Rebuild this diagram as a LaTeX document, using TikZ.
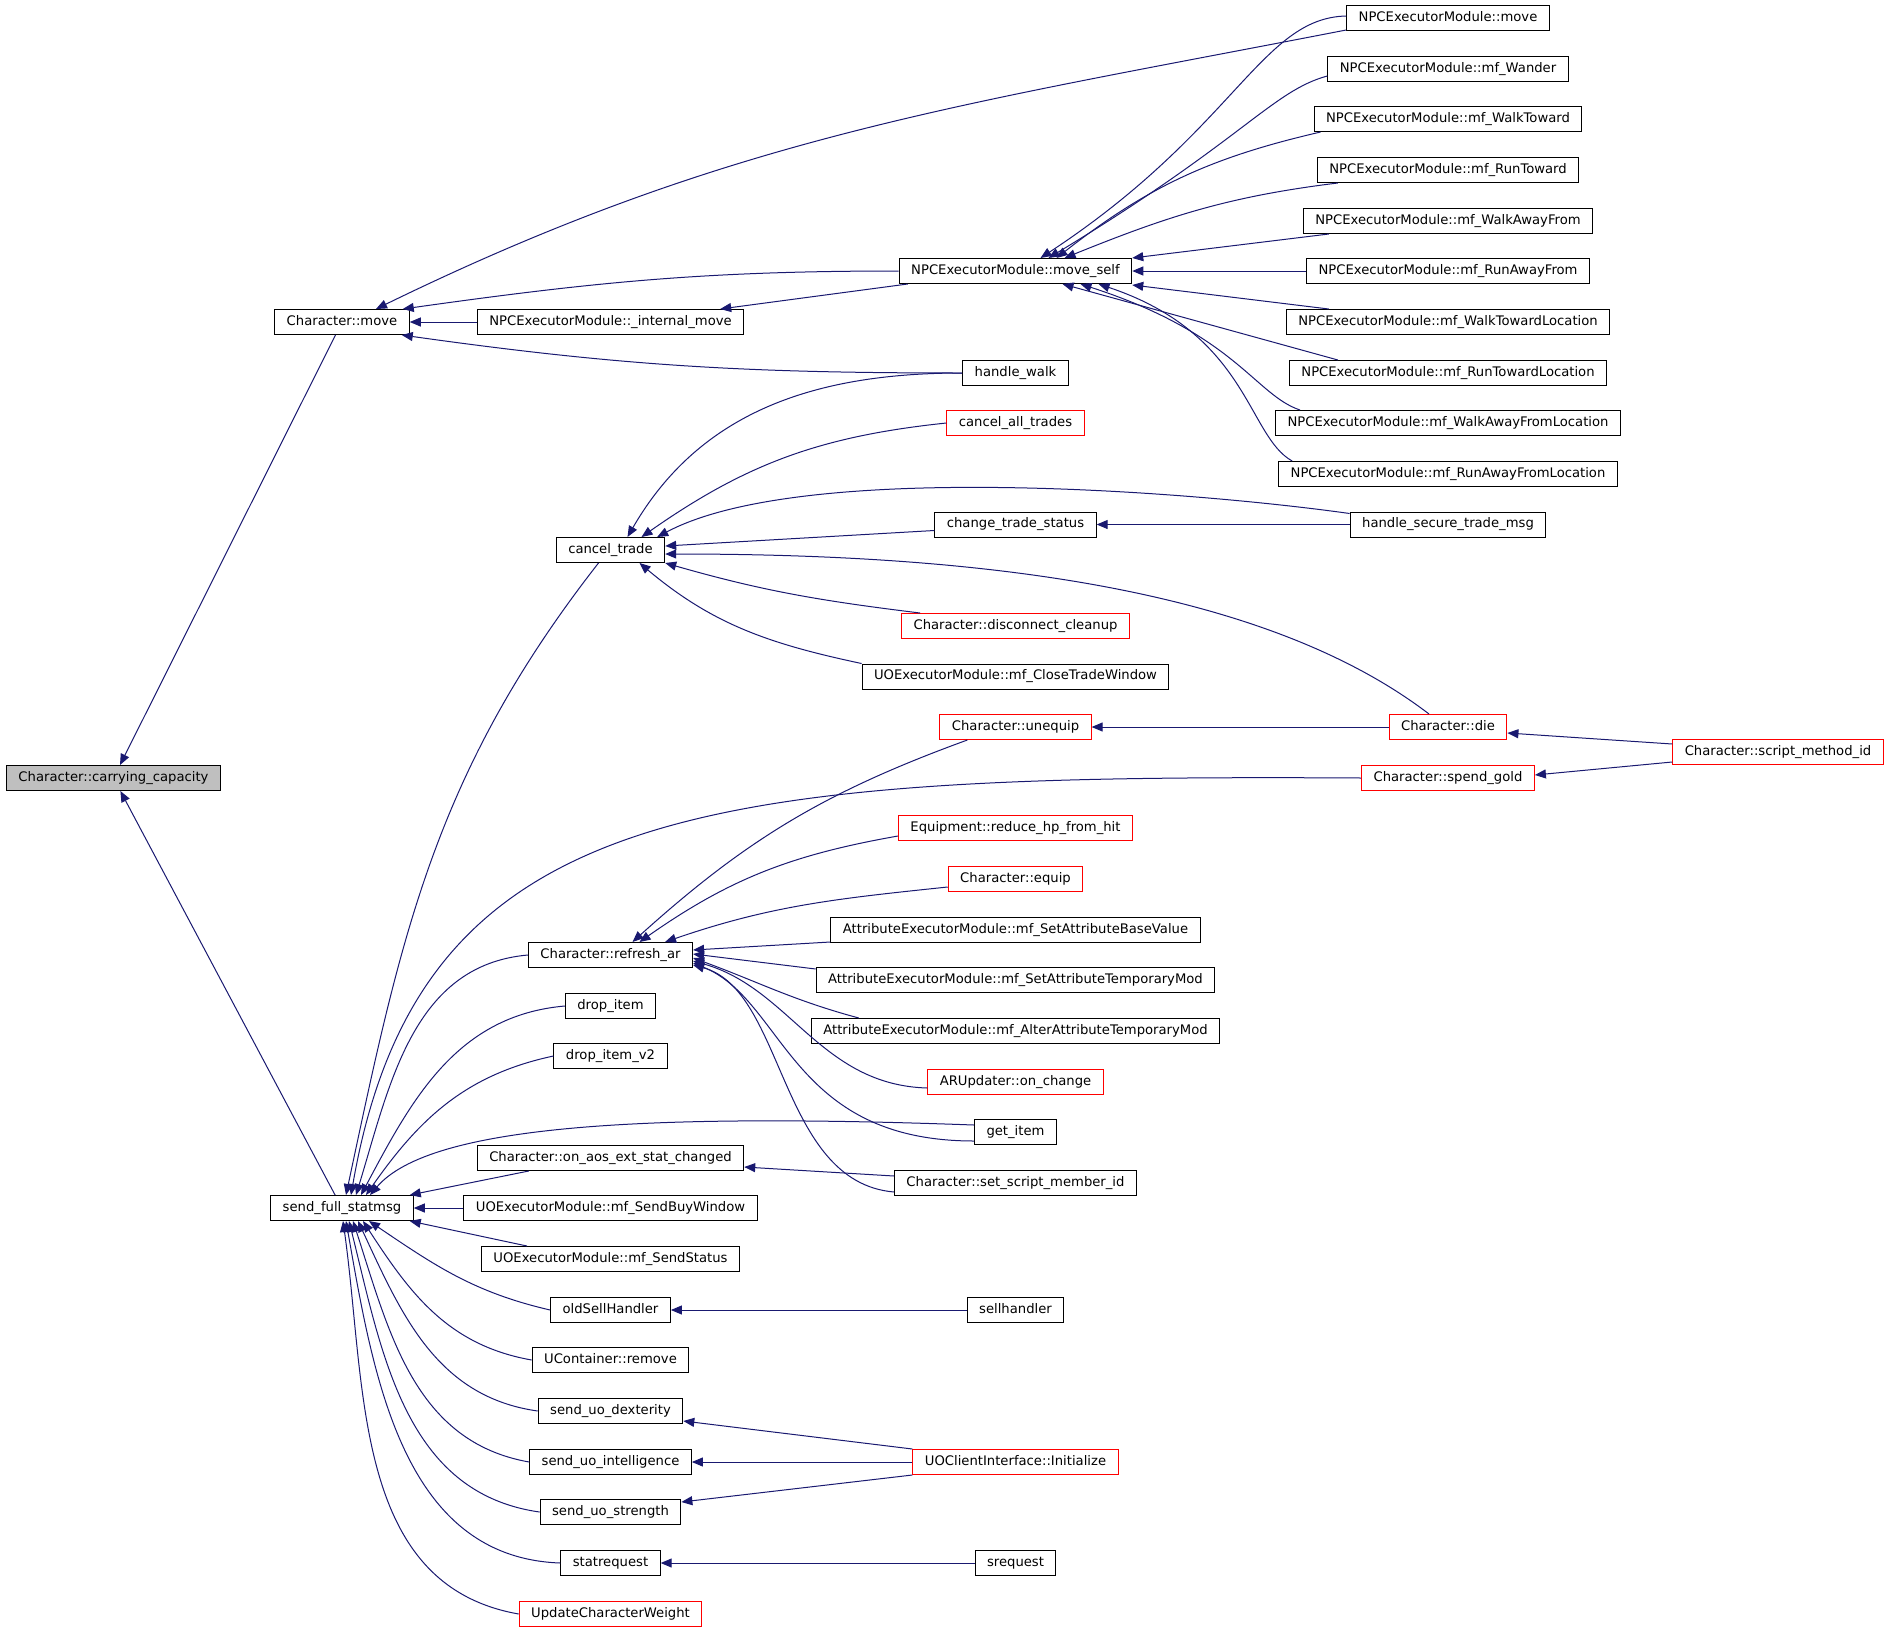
\documentclass[tikz,border=0pt]{standalone}
\usepackage{fontspec}
\setmainfont{DejaVu Sans}
\usetikzlibrary{arrows.meta}
\usetikzlibrary{calc}
\definecolor{edgeblue}{rgb}{0.098, 0.098, 0.439}
\definecolor{boxgray}{rgb}{0.75, 0.75, 0.75}
\tikzset{fn/.style = {draw, line width=0.02cm, inner xsep=0.24cm, inner ysep=0,
                      minimum height=0.5cm, text height=0.19cm, text depth=0.06cm,
                      font=\fontsize{7.5pt}{9pt}\selectfont}}
\tikzset{fnred/.style = {fn, draw=red}}
\tikzset{fncur/.style = {fn, fill=boxgray}}
\tikzset{call/.style = {draw=edgeblue, line width=0.02cm,
                        -{Triangle[length=0.22cm, width=0.18cm]}}}

\begin{document}
\begin{tikzpicture}[x=0.02cm, y=-0.02cm]
      \useasboundingbox (0, 0) rectangle (1891, 1633);

      \node [fncur] (cc) at (113.5, 778) {Character::carrying\_capacity};
      \node [fn] (cmove) at (342, 322) {Character::move};
      \node [fn] (sfs) at (342, 1208) {send\_full\_statmsg};

      \node [fn] (imove) at (610.5, 322) {NPCExecutorModule::\_internal\_move};
      \node [fn] (ctrade) at (610.5, 550) {cancel\_trade};
      \node [fn] (rar) at (610.5, 955) {Character::refresh\_ar};
      \node [fn] (drop) at (610.5, 1006) {drop\_item};
      \node [fn] (dropv) at (610.5, 1056) {drop\_item\_v2};
      \node [fn] (aos) at (610.5, 1158) {Character::on\_aos\_ext\_stat\_changed};
      \node [fn] (buywin) at (610.5, 1208) {UOExecutorModule::mf\_SendBuyWindow};
      \node [fn] (status) at (610.5, 1259) {UOExecutorModule::mf\_SendStatus};
      \node [fn] (oldsell) at (610.5, 1310) {oldSellHandler};
      \node [fn] (remove) at (610.5, 1360) {UContainer::remove};
      \node [fn] (dex) at (610.5, 1411) {send\_uo\_dexterity};
      \node [fn] (intel) at (610.5, 1462) {send\_uo\_intelligence};
      \node [fn] (str) at (610.5, 1512) {send\_uo\_strength};
      \node [fn] (statreq) at (610.5, 1563) {statrequest};
      \node [fnred] (weight) at (610.5, 1614) {UpdateCharacterWeight};

      \node [fn] (mself) at (1015.5, 271) {NPCExecutorModule::move\_self};
      \node [fn] (walk) at (1015.5, 373) {handle\_walk};
      \node [fnred] (cat) at (1015.5, 423) {cancel\_all\_trades};
      \node [fn] (cts) at (1015.5, 524.5) {change\_trade\_status};
      \node [fnred] (dcl) at (1015.5, 626) {Character::disconnect\_cleanup};
      \node [fn] (ctw) at (1015.5, 676.5) {UOExecutorModule::mf\_CloseTradeWindow};
      \node [fnred] (uneq) at (1015.5, 727) {Character::unequip};
      \node [fnred] (rhp) at (1015.5, 828) {Equipment::reduce\_hp\_from\_hit};
      \node [fnred] (equip) at (1015.5, 879) {Character::equip};
      \node [fn] (sabv) at (1015.5, 930) {AttributeExecutorModule::mf\_SetAttributeBaseValue};
      \node [fn] (satm) at (1015.5, 980) {AttributeExecutorModule::mf\_SetAttributeTemporaryMod};
      \node [fn] (aatm) at (1015.5, 1031) {AttributeExecutorModule::mf\_AlterAttributeTemporaryMod};
      \node [fnred] (aruc) at (1015.5, 1082) {ARUpdater::on\_change};
      \node [fn] (gitem) at (1015.5, 1132) {get\_item};
      \node [fn] (ssmi) at (1015.5, 1183) {Character::set\_script\_member\_id};
      \node [fn] (sellh) at (1015.5, 1310) {sellhandler};
      \node [fnred] (uoci) at (1015.5, 1462) {UOClientInterface::Initialize};
      \node [fn] (sreq) at (1015.5, 1563) {srequest};

      \node [fn] (nmove) at (1448, 18) {NPCExecutorModule::move};
      \node [fn] (wander) at (1448, 69) {NPCExecutorModule::mf\_Wander};
      \node [fn] (wtow) at (1448, 119) {NPCExecutorModule::mf\_WalkToward};
      \node [fn] (rtow) at (1448, 170) {NPCExecutorModule::mf\_RunToward};
      \node [fn] (waf) at (1448, 221) {NPCExecutorModule::mf\_WalkAwayFrom};
      \node [fn] (raf) at (1448, 271) {NPCExecutorModule::mf\_RunAwayFrom};
      \node [fn] (wtl) at (1448, 322) {NPCExecutorModule::mf\_WalkTowardLocation};
      \node [fn] (rtl) at (1448, 373) {NPCExecutorModule::mf\_RunTowardLocation};
      \node [fn] (wafl) at (1448, 423) {NPCExecutorModule::mf\_WalkAwayFromLocation};
      \node [fn] (rafl) at (1448, 474) {NPCExecutorModule::mf\_RunAwayFromLocation};
      \node [fn] (hstm) at (1448, 524.5) {handle\_secure\_trade\_msg};
      \node [fnred] (die) at (1448, 727) {Character::die};
      \node [fnred] (gold) at (1448, 778) {Character::spend\_gold};

      \node [fnred] (smid) at (1778, 752) {Character::script\_method\_id};

      \draw [call] (cmove) -- (cc);
      \draw [call] (sfs) -- (cc);

      \draw [call] ($(nmove.south west)+(0,-1)$) to [out=191, in=26] ($(cmove.north)+(34,0)$);
      \draw [call] (mself.west) to [out=180, in=8] ($(cmove.north east)+(-7,0)$);
      \draw [call] (imove) -- (cmove);
      \draw [call] (walk.west) to [out=180, in=-8] ($(cmove.south east)+(-8,0)$);
      \draw [call] ($(mself.south west)+(9,0)$) -- ($(imove.north east)+(-24,0)$);

      \draw [call] ($(nmove.west)+(0,-2)$) .. controls +(-85,2) and +(195,-128) .. ($(mself.north)+(25,0)$);
      \draw [call] ($(wander.west)+(0,7)$) .. controls +(-55,15) and +(195,-118) .. ($(mself.north)+(33,0)$);
      \draw [call] ($(wtow.south west)+(7,0)$) to [out=193, in=38] ($(mself.north)+(41,0)$);
      \draw [call] ($(rtow.south west)+(21,0)$) to [out=187, in=22] ($(mself.north)+(49,0)$);
      \draw [call] ($(waf.south west)+(26,0)$) -- ($(mself.east)+(0,-13)$);
      \draw [call] (raf) -- (mself);
      \draw [call] ($(wtl.north west)+(43,0)$) -- ($(mself.east)+(0,14)$);
      \draw [call] ($(rtl.north west)+(49,0)$) -- ($(mself.south)+(47,0)$);
      \draw [call] ($(wafl.north west)+(25,0)$) .. controls +(-45,-15) and +(155,50) .. ($(mself.south)+(65,0)$);
      \draw [call] ($(rafl.north west)+(14,0)$) .. controls +(-45,-25) and +(150,50) .. ($(mself.south)+(83,0)$);

      \draw [call] (walk.west) to [out=180, in=60] ($(ctrade.north)+(17,0)$);
      \draw [call] (cat.west) to [out=186, in=35] ($(ctrade.north)+(31,0)$);
      \draw [call] ($(hstm.north west)+(0,2)$) to [out=172, in=28, looseness=0.6] ($(ctrade.north east)+(-8,0)$);
      \draw [call] ($(cts.west)+(0,6)$) -- ($(ctrade.east)+(0,-4)$);
      \draw [call] (hstm) -- (cts);
      \draw [call] ($(die.north)+(-19,0)$) .. controls +(-170,-130) and +(300,0) .. ($(ctrade.east)+(0,4)$);
      \draw [call] ($(dcl.north west)+(19,0)$) to [out=173, in=-16] (ctrade.south east);
      \draw [call] (ctw.north west) to [out=168, in=-40] ($(ctrade.south)+(29,0)$);

      \draw [call] ($(ctrade.south)+(-12,0)$) to [out=232, in=78] ($(sfs.north)+(4,0)$);
      \draw [call] (gold.west) .. controls +(-660,-4) and +(68,-392) .. ($(sfs.north)+(9,0)$);
      \draw [call] (rar.west) to [out=185, in=73] ($(sfs.north)+(14,0)$);
      \draw [call] (drop.west) to [out=185, in=62] ($(sfs.north)+(19,0)$);
      \draw [call] (dropv.west) to [out=192, in=55] ($(sfs.north)+(24,0)$);
      \draw [call] ($(gitem.west)+(0,-7)$) .. controls +(-330,-12) and +(60,-70) .. ($(sfs.north)+(28,0)$);
      \draw [call] ($(aos.south west)+(52,0)$) -- ($(sfs.north east)+(-4,0)$);
      \draw [call] (buywin) -- (sfs);
      \draw [call] ($(status.north west)+(46,0)$) -- ($(sfs.south east)+(-4,0)$);
      \draw [call] (oldsell.west) to [out=167, in=-34] ($(sfs.south)+(27,0)$);
      \draw [call] (remove.west) to [out=170, in=-57] ($(sfs.south)+(21,0)$);
      \draw [call] (dex.west) to [out=172, in=-65] ($(sfs.south)+(16,0)$);
      \draw [call] (intel.west) to [out=170, in=-72] ($(sfs.south)+(11,0)$);
      \draw [call] (str.west) to [out=172, in=-76] ($(sfs.south)+(7,0)$);
      \draw [call] (statreq.west) to [out=178, in=-80] ($(sfs.south)+(4,0)$);
      \draw [call] (weight.west) to [out=170, in=-82] ($(sfs.south)+(1,0)$);

      \draw [call] ($(uneq.south west)+(28,0)$) to [out=200, in=42] ($(rar.north)+(22,0)$);
      \draw [call] ($(rhp.west)+(0,8)$) to [out=190, in=35] ($(rar.north)+(29,0)$);
      \draw [call] ($(equip.west)+(0,8)$) to [out=186, in=19] ($(rar.north east)+(-28,0)$);
      \draw [call] ($(sabv.west)+(0,12)$) -- ($(rar.east)+(0,-5)$);
      \draw [call] ($(satm.north west)+(0,2)$) -- ($(rar.east)+(0,-1)$);
      \draw [call] ($(aatm.north west)+(48,0)$) to [out=165, in=-20] ($(rar.east)+(0,3)$);
      \draw [call] ($(aruc.west)+(0,6)$) .. controls +(-107,-3) and +(97,27) .. ($(rar.east)+(0,6)$);
      \draw [call] ($(gitem.west)+(0,9)$) .. controls +(-185,0) and +(92,37) .. ($(rar.east)+(0,8)$);
      \draw [call] ($(ssmi.west)+(0,9)$) .. controls +(-115,-10) and +(92,25) .. ($(rar.east)+(0,10)$);
      \draw [call] ($(ssmi.west)+(0,-7)$) -- ($(aos.east)+(0,9)$);

      \draw [call] (die) -- (uneq);
      \draw [call] ($(smid.west)+(0,-8)$) -- ($(die.east)+(0,6)$);
      \draw [call] ($(smid.west)+(0,10)$) -- ($(gold.east)+(0,-3)$);
      \draw [call] (sellh) -- (oldsell);
      \draw [call] (uoci.north west) -- ($(dex.south east)+(0,-3)$);
      \draw [call] (uoci) -- (intel);
      \draw [call] (uoci.south west) -- ($(str.north east)+(0,3)$);
      \draw [call] (sreq) -- (statreq);
\end{tikzpicture}
\end{document}
